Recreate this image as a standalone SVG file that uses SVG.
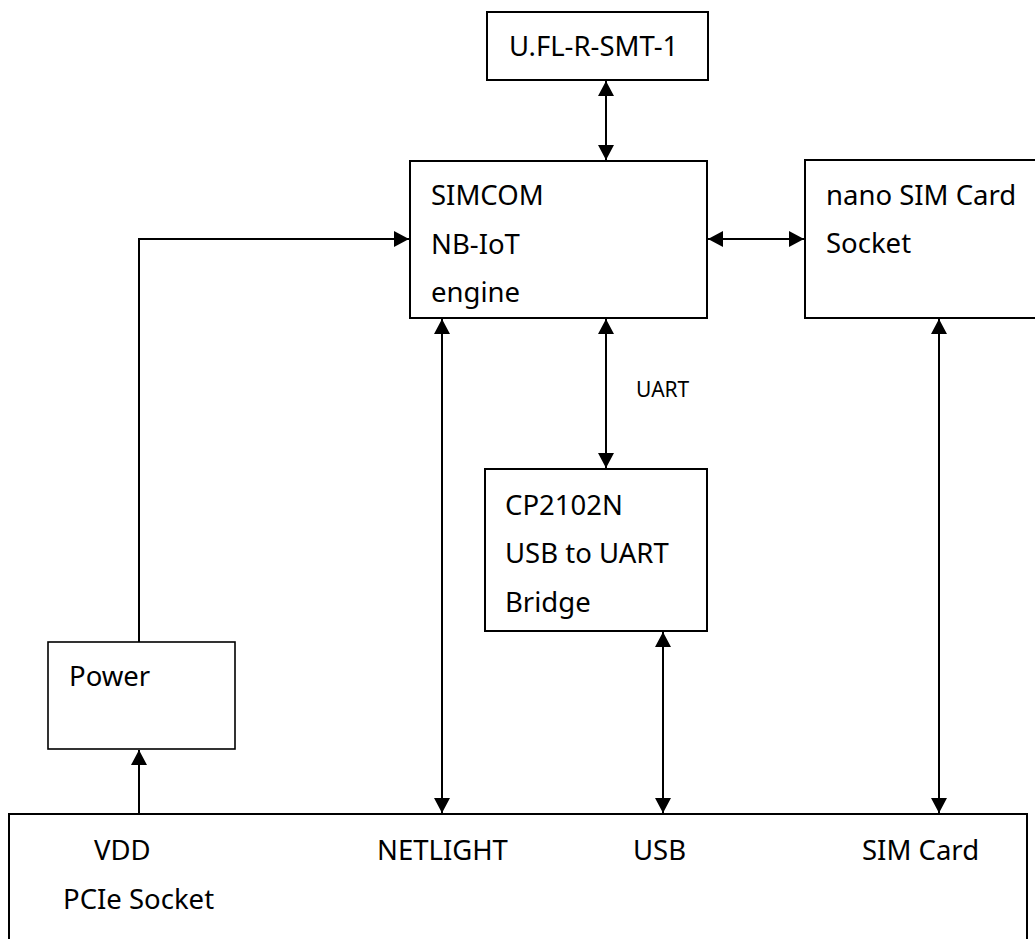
<svg xmlns="http://www.w3.org/2000/svg" width="1035" height="939" viewBox="0 0 1035 939">
<style>
.box{fill:#fff;stroke:#000;stroke-width:2}
.t{font-family:"Noto Sans","Open Sans",sans-serif;font-size:27.5px;fill:#000}
.s{font-family:"Noto Sans","Open Sans",sans-serif;font-size:21px;fill:#000}
.ln{fill:none;stroke:#000;stroke-width:2}
</style>
<defs>
<marker id="ah" markerUnits="userSpaceOnUse" markerWidth="16" markerHeight="16" viewBox="0 0 15 16" refX="15" refY="8" orient="auto-start-reverse">
<path d="M0,0 L15,8 L0,16 Z" fill="#000"/>
</marker>
</defs>
<rect width="1035" height="939" fill="#fff"/>
<g id="connectors">
<line class="ln" x1="606" y1="81" x2="606" y2="160" marker-start="url(#ah)" marker-end="url(#ah)"/>
<line class="ln" x1="708" y1="239" x2="804" y2="239" marker-start="url(#ah)" marker-end="url(#ah)"/>
<polyline class="ln" points="139,642 139,239 409,239" marker-end="url(#ah)"/>
<line class="ln" x1="606" y1="319" x2="606" y2="468" marker-start="url(#ah)" marker-end="url(#ah)"/>
<line class="ln" x1="442" y1="319" x2="442" y2="813" marker-start="url(#ah)" marker-end="url(#ah)"/>
<line class="ln" x1="663" y1="632" x2="663" y2="813" marker-start="url(#ah)" marker-end="url(#ah)"/>
<line class="ln" x1="939" y1="319" x2="939" y2="813" marker-start="url(#ah)" marker-end="url(#ah)"/>
<line class="ln" x1="139" y1="814" x2="139" y2="750" marker-end="url(#ah)"/>
<text class="s" x="636" y="397">UART</text>
</g>
<g id="ufl">
<rect class="box" x="487" y="12" width="221" height="68"/>
<text class="t" x="509" y="56">U.FL-R-SMT-1</text>
</g>
<g id="simcom">
<rect class="box" x="410" y="161" width="297" height="157"/>
<text class="t" x="431" y="205">SIMCOM</text>
<text class="t" x="431" y="254">NB-IoT</text>
<text class="t" x="431" y="302">engine</text>
</g>
<g id="nanosim">
<rect class="box" x="805" y="160" width="240" height="158"/>
<text class="t" x="826" y="205">nano SIM Card</text>
<text class="t" x="826" y="253">Socket</text>
</g>
<g id="cp2102n">
<rect class="box" x="485" y="469" width="222" height="162"/>
<text class="t" x="505" y="515">CP2102N</text>
<text class="t" x="505" y="563">USB to UART</text>
<text class="t" x="505" y="612">Bridge</text>
</g>
<g id="power">
<rect class="box" x="48" y="642" width="187" height="107" style="stroke-width:1.6"/>
<text class="t" x="69" y="686">Power</text>
</g>
<g id="pcie">
<rect class="box" x="9" y="814" width="1018" height="140"/>
<text class="t" x="94" y="860">VDD</text>
<text class="t" x="377" y="860">NETLIGHT</text>
<text class="t" x="633" y="860">USB</text>
<text class="t" x="862" y="860">SIM Card</text>
<text class="t" x="63" y="909">PCIe Socket</text>
</g>
</svg>
